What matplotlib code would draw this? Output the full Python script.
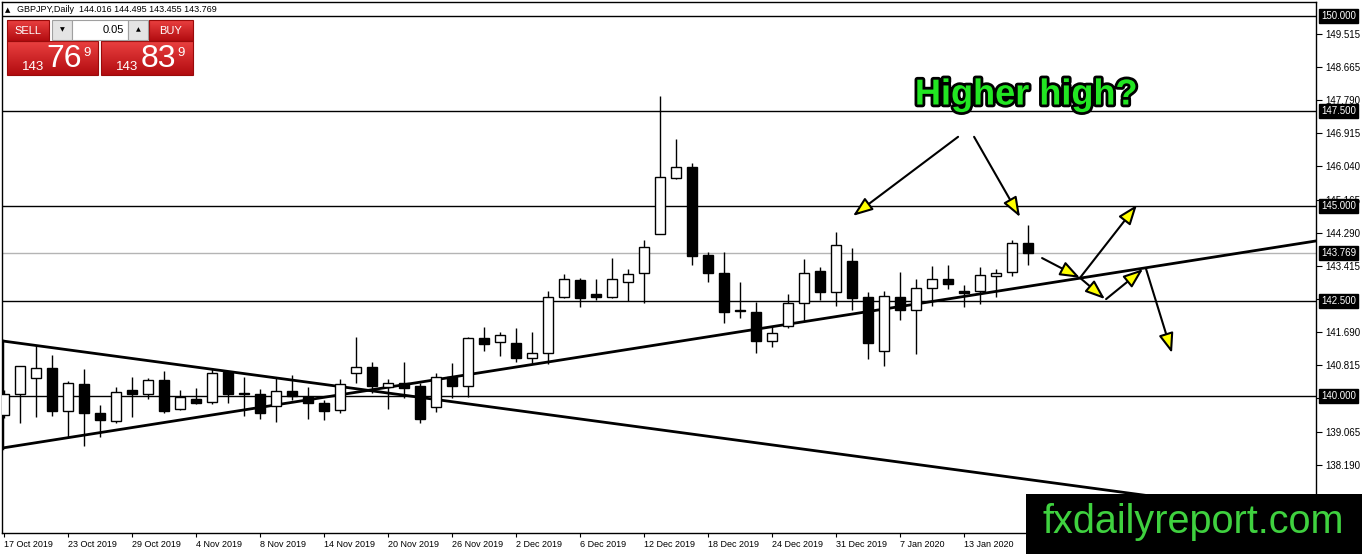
import numpy as np
import matplotlib.pyplot as plt
import matplotlib.patheffects as pe
from matplotlib.patches import Rectangle
from matplotlib.transforms import blended_transform_factory
from matplotlib.colors import LinearSegmentedColormap

# daily GBPJPY candles, 17 Oct 2019 .. 17 Jan 2020
opens = [139.50, 140.05, 140.47, 140.74, 139.61, 140.32, 139.55, 139.34, 140.16, 140.05,
         140.42, 139.66, 139.92, 139.84, 140.63, 140.05, 140.05, 139.74, 140.13, 139.97,
         139.82, 139.63, 140.61, 140.76, 140.24, 140.34, 140.26, 139.71, 140.50, 140.26,
         141.53, 141.42, 141.39, 141.00, 141.13, 142.61, 143.05, 142.68, 142.61, 143.00,
         143.24, 144.26, 145.74, 146.03, 143.71, 143.24, 142.26, 142.21, 141.45, 141.84,
         142.45, 143.29, 142.74, 143.55, 142.61, 141.18, 142.61, 142.26, 142.84, 143.08,
         142.76, 142.76, 143.16, 143.26, 144.016]
highs = [140.16, 140.80, 141.34, 141.08, 140.39, 140.71, 139.76, 140.24, 140.50, 140.47,
         140.66, 140.16, 140.21, 140.71, 140.66, 140.50, 140.18, 140.47, 140.55, 140.24,
         139.89, 140.45, 141.55, 140.89, 140.45, 140.89, 140.34, 140.61, 140.87, 141.55,
         141.82, 141.68, 141.79, 141.68, 142.76, 143.21, 143.11, 143.08, 143.63, 143.34,
         144.11, 147.89, 146.76, 146.13, 143.79, 143.79, 143.00, 142.47, 141.82, 142.68,
         143.61, 143.40, 144.32, 143.89, 142.74, 142.76, 143.26, 143.08, 143.42, 143.45,
         142.92, 143.40, 143.34, 144.11, 144.495]
lows = [139.42, 139.29, 139.45, 139.47, 138.92, 138.68, 138.92, 139.29, 139.45, 139.92,
        139.55, 139.63, 139.79, 139.79, 139.82, 139.47, 139.39, 139.32, 139.89, 139.39,
        139.37, 139.55, 140.34, 140.08, 139.66, 139.95, 139.29, 139.58, 139.95, 139.97,
        141.18, 141.05, 140.89, 140.87, 140.84, 142.58, 142.34, 142.53, 142.58, 142.50,
        142.45, 144.26, 145.72, 143.45, 143.00, 141.92, 142.05, 141.13, 141.29, 141.79,
        141.97, 142.53, 142.37, 142.26, 140.97, 140.79, 142.00, 141.11, 142.37, 142.82,
        142.34, 142.42, 142.61, 143.16, 143.455]
closes = [140.05, 140.79, 140.74, 139.61, 140.34, 139.55, 139.37, 140.11, 140.05, 140.42,
          139.61, 139.97, 139.82, 140.61, 140.05, 140.07, 139.55, 140.13, 140.00, 139.82,
          139.61, 140.32, 140.76, 140.26, 140.34, 140.21, 139.39, 140.50, 140.26, 141.53,
          141.37, 141.61, 141.00, 141.13, 142.61, 143.08, 142.58, 142.61, 143.08, 143.21,
          143.92, 145.76, 146.03, 143.68, 143.24, 142.21, 142.24, 141.45, 141.66, 142.45,
          143.24, 142.74, 143.97, 142.58, 141.39, 142.63, 142.26, 142.84, 143.08, 142.95,
          142.71, 143.18, 143.24, 144.03, 143.769]

date_labels = ['17 Oct 2019', '23 Oct 2019', '29 Oct 2019', '4 Nov 2019', '8 Nov 2019',
               '14 Nov 2019', '20 Nov 2019', '26 Nov 2019', '2 Dec 2019', '6 Dec 2019',
               '12 Dec 2019', '18 Dec 2019', '24 Dec 2019', '31 Dec 2019', '7 Jan 2020',
               '13 Jan 2020']
date_pos = list(range(0, 4 * len(date_labels), 4))

price_ticks = [149.515, 148.665, 147.790, 146.915, 146.040, 145.165, 144.290, 143.415,
               142.540, 141.690, 140.815, 139.940, 139.065, 138.190, 137.315]
levels = [150.0, 147.5, 145.0, 142.5, 140.0]
bid = 143.769
ask = 143.839

# trend lines (bar index, price)
upper_line = ([-0.125, 82.0], [141.45, 136.78])
lower_line = ([-0.125, 82.0], [138.63, 144.08])

# annotation arrows: (start, tip) in bar index / price
arrows = [((59.63, 146.82), (53.06, 144.74)),
          ((60.63, 146.82), (63.50, 144.71)),
          ((64.88, 143.63), (67.25, 143.11)),
          ((67.25, 143.11), (68.81, 142.55)),
          ((67.25, 143.11), (70.81, 145.03)),
          ((68.88, 142.55), (71.19, 143.34)),
          ((71.38, 143.34), (73.00, 141.13))]

W, H = 1362, 554
small_font = 'Liberation Sans'

fig = plt.figure(figsize=(W / 100, H / 100), dpi=100)
ax = fig.add_axes([2 / W, 21 / H, 1314 / W, 531 / H])
ax.set_xlim(-0.125, 82.0)
ax.set_ylim(136.395, 150.368)

# levels and trend lines
for lv in levels:
    ax.axhline(lv, color='black', lw=1, zorder=2)
ax.axhline(bid, color='#b4b4b4', lw=1, zorder=2)
ax.plot(*upper_line, color='black', lw=2, zorder=3)
ax.plot(*lower_line, color='black', lw=2, zorder=3)
ax.plot([upper_line[0][0]] * 2, [lower_line[1][0], upper_line[1][0]],
        color='black', lw=2.5, zorder=3)

# candles
o = np.array(opens)
c = np.array(closes)
x = np.arange(len(o))
ax.vlines(x, lows, highs, color='black', lw=1, zorder=4)
bottoms = np.minimum(o, c)
heights = np.maximum(np.abs(c - o), 0.01)
colors = ['white' if cc >= oo else 'black' for oo, cc in zip(o, c)]
ax.bar(x, heights, bottom=bottoms, width=0.6, color=colors,
       edgecolor='black', lw=1, zorder=5)

# arrows + caption
for start, tip in arrows:
    ax.annotate('', xy=tip, xytext=start,
                arrowprops=dict(arrowstyle='-|>,head_length=1.2,head_width=0.45',
                                fc='#ffff00', ec='black', lw=1.5,
                                shrinkA=0, shrinkB=0), zorder=8)
ax.text(63.9, 147.92, 'Higher high?', ha='center', va='center', fontsize=26,
        fontweight='bold', family=small_font, color='#22e622', zorder=9,
        path_effects=[pe.withStroke(linewidth=4, foreground='black')])

# axes styling
for sp in ax.spines.values():
    sp.set_color('black')
    sp.set_linewidth(1)
ax.yaxis.tick_right()
ax.set_yticks(price_ticks)
# labels sitting under a level box are not shown
ax.set_yticklabels(['' if min(abs(t - lv) for lv in levels) < 0.1 else f'{t:.3f}'
                    for t in price_ticks])
ax.set_xticks(date_pos)
ax.set_xticklabels(date_labels)
for lbl in ax.get_xticklabels():
    lbl.set_horizontalalignment('left')
    lbl.set_family(small_font)
for lbl in ax.get_yticklabels():
    lbl.set_family(small_font)
ax.tick_params(axis='y', direction='out', length=4, pad=3, labelsize=7)
ax.tick_params(axis='x', direction='out', length=3, pad=2, labelsize=6.5)

trans = blended_transform_factory(ax.transAxes, ax.transData)
for lv in levels + [bid]:
    ax.text(1 + 5 / 1314, lv, f'{lv:.3f}', transform=trans, ha='left', va='center',
            color='white', fontsize=7, family=small_font, clip_on=False, zorder=10,
            bbox=dict(boxstyle='square,pad=0.2', fc='black', ec='black'))

# overlay in pixel coords for the terminal widgets
ov = fig.add_axes([0, 0, 1, 1], zorder=20)
ov.axis('off')
red = LinearSegmentedColormap.from_list('red', ['#ea4040', '#b20c10'])
grad = np.linspace(0, 1, 64).reshape(-1, 1)


def red_box(x0, x1, y0, y1):
    ov.imshow(grad, cmap=red, extent=[x0, x1, y1, y0], origin='upper',
              aspect='auto', zorder=1)
    ov.add_patch(Rectangle((x0, y0), x1 - x0, y1 - y0, fc='none', ec='#9a0a0a',
                           lw=0.8, zorder=2))


red_box(7, 49, 20, 41)
red_box(149, 193, 20, 41)
red_box(7, 98, 41, 75)
red_box(101, 193, 41, 75)
ov.add_patch(Rectangle((52, 20), 20, 20, fc='#e4e4e4', ec='#a0a0a0', lw=0.8, zorder=2))
ov.add_patch(Rectangle((72, 20), 56, 20, fc='white', ec='#a0a0a0', lw=0.8, zorder=2))
ov.add_patch(Rectangle((128, 20), 20, 20, fc='#e4e4e4', ec='#a0a0a0', lw=0.8, zorder=2))
ov.text(62, 30, '▼', fontsize=4.5, ha='center', va='center', zorder=3)
ov.text(138, 30, '▲', fontsize=4.5, ha='center', va='center', zorder=3)
ov.text(124, 30, '0.05', fontsize=8, family=small_font, ha='right', va='center', zorder=3)
ov.text(28, 31, 'SELL', fontsize=8, family=small_font, color='white',
        ha='center', va='center', zorder=3)
ov.text(171, 31, 'BUY', fontsize=8, family=small_font, color='white',
        ha='center', va='center', zorder=3)

for px, price in [(0, bid), (94, ask)]:
    s = f'{price:.3f}'
    big, pip, frac = s[:3], s[4:6], s[6]
    ov.text(33 + px, 67, big, fontsize=9.5, family=small_font, color='white',
            ha='center', va='center', zorder=3)
    ov.text(64 + px, 59, pip, fontsize=23, family=small_font, color='white',
            ha='center', va='center', zorder=3)
    ov.text(87 + px, 53, frac, fontsize=9.5, family=small_font, color='white',
            ha='center', va='center', zorder=3)

ov.text(5, 10, '▲', fontsize=5, ha='left', va='center', zorder=3)
ov.text(17, 10, f'GBPJPY,Daily  {opens[-1]:.3f} {highs[-1]:.3f} {lows[-1]:.3f} {closes[-1]:.3f}',
        fontsize=6.5, family=small_font, ha='left', va='center', zorder=3)

# watermark
ov.add_patch(Rectangle((1026, 494), 336, 60, fc='black', ec='none', zorder=4))
ov.text(1193, 522, 'fxdailyreport.com', fontsize=28.5, family=small_font,
        color='#3fd13f', ha='center', va='center', zorder=5)

ov.set_xlim(0, W)
ov.set_ylim(H, 0)

fig.savefig('out.png', dpi=100)
